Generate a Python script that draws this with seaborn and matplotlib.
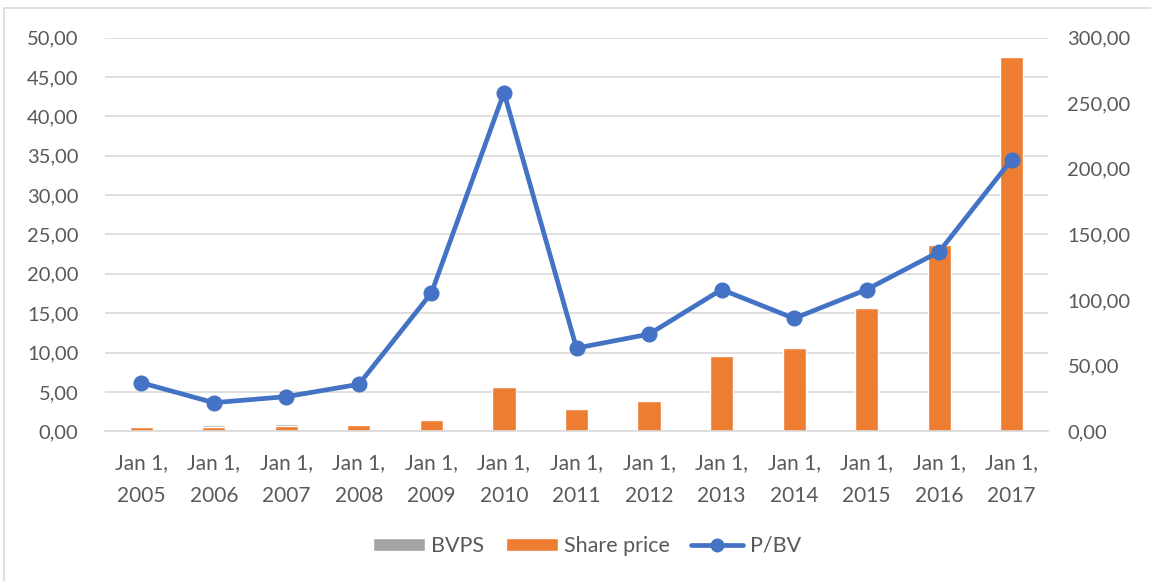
import pandas as pd
import numpy as np
import matplotlib
matplotlib.use("Agg")
import matplotlib.pyplot as plt
import seaborn as sns
from matplotlib.patches import Patch
from matplotlib.lines import Line2D

# Values
years = ["2005", "2006", "2007", "2008", "2009", "2010", "2011",
         "2012", "2013", "2014", "2015", "2016", "2017"]
bvps = [0.30, 0.75, 0.88, 0.30, 0.30, 0.30, 0.30, 0.30, 0.30, 0.30, 0.30, 0.30, 0.30]
share_price = [0.55, 0.50, 0.70, 0.75, 1.45, 5.60, 2.85, 3.85, 9.60, 10.55, 15.70, 23.70, 47.50]
pbv = [37.0, 21.8, 26.4, 35.8, 105.4, 258.0, 63.4, 74.0, 108.0, 86.0, 108.0, 136.8, 207.0]

labels = ["Jan 1,\n" + y for y in years]
df = pd.DataFrame({"date": labels, "BVPS": bvps, "Share price": share_price, "P/BV": pbv})

GREY = "#a5a5a5"
ORANGE = "#ed7d31"
BLUE = "#4472c4"
TXT = "#595959"
GRID = "#d9d9d9"
FS = 14.5

sns.set_style("white")
plt.rcParams["font.family"] = ["Lato", "DejaVu Sans"]

fig = plt.figure(figsize=(11.51, 5.81), dpi=100)
ax = fig.add_axes([105 / 1151, 1 - 431.3 / 581, (1048 - 105) / 1151, (431.3 - 37.5) / 581])

sns.barplot(data=df, x="date", y="BVPS", color=GREY, width=0.32, saturation=1, ax=ax)
sns.barplot(data=df, x="date", y="Share price", color=ORANGE, width=0.32, saturation=1, ax=ax)

ax.set_ylim(0, 50)
ax.set_yticks(np.arange(0, 51, 5))
ax.set_yticklabels([f"{v:.2f}".replace(".", ",") for v in np.arange(0, 51, 5)])
ax.set_xlim(-0.5, len(years) - 0.5)
ax.yaxis.grid(True, color=GRID, linewidth=1.2)
ax.set_axisbelow(True)
ax.set_xlabel("")
ax.set_ylabel("")
for s in ["top", "left", "right"]:
    ax.spines[s].set_visible(False)
ax.spines["bottom"].set_color(GRID)
ax.spines["bottom"].set_linewidth(1.2)

# category separators as major ticks, labels on minor ticks
n = len(years)
ax.set_xticks(np.arange(-0.5, n, 1.0))
ax.set_xticklabels([])
ax.set_xticks(np.arange(n), minor=True)
ax.set_xticklabels(labels, minor=True)
ax.tick_params(axis="x", which="major", length=7, width=1.2, color=GRID, direction="out")
ax.tick_params(axis="x", which="minor", length=0, pad=16, labelsize=15, labelcolor=TXT)
ax.tick_params(axis="y", length=0, pad=19, labelsize=FS, labelcolor=TXT)
for t in ax.get_xticklabels(minor=True):
    t.set_linespacing(1.8)

ax2 = ax.twinx()
sns.pointplot(data=df, x="date", y="P/BV", color=BLUE, markers="o",
              linewidth=3.4, markersize=9, ax=ax2)
ax2.set_ylim(0, 300)
ax2.set_xlim(-0.5, n - 0.5)
ax2.set_yticks(np.arange(0, 301, 50))
ax2.set_yticklabels([f"{v:.2f}".replace(".", ",") for v in np.arange(0, 301, 50)])
ax2.tick_params(axis="y", length=0, pad=14, labelsize=FS, labelcolor=TXT)
ax2.set_ylabel("")
ax2.set_xlabel("")
for s in ["top", "left", "right", "bottom"]:
    ax2.spines[s].set_visible(False)

handles = [Patch(facecolor=GREY, label="BVPS"),
           Patch(facecolor=ORANGE, label="Share price"),
           Line2D([0], [0], color=BLUE, linewidth=3.4, marker="o", markersize=9, label="P/BV")]
fig.legend(handles=handles, loc="center", bbox_to_anchor=(587 / 1151, 1 - 546 / 581), ncol=3,
           frameon=False, fontsize=15.5, labelcolor=TXT, handlelength=2.4,
           handleheight=0.6, columnspacing=1.0, handletextpad=0.3)

# chart area border (top and left visible)
fig.add_artist(Line2D([4 / 1151, 1], [1 - 8 / 581, 1 - 8 / 581], color=GRID, linewidth=1.2,
                      transform=fig.transFigure))
fig.add_artist(Line2D([4 / 1151, 4 / 1151], [0, 1 - 8 / 581], color=GRID, linewidth=1.2,
                      transform=fig.transFigure))

fig.savefig("out.png", dpi=100)
